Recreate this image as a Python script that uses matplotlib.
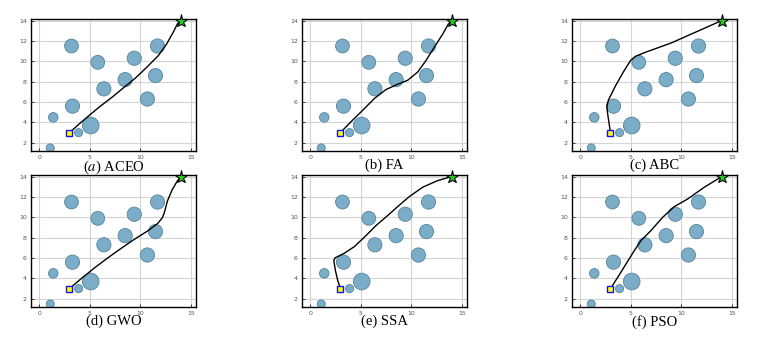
import matplotlib

matplotlib.use("Agg")
import matplotlib.pyplot as plt
from matplotlib.patches import Circle

plt.rcParams["mathtext.fontset"] = "stix"

# obstacles: x, y, radius
obs_x = [3.2, 5.8, 9.4, 11.7, 8.5, 11.5, 6.4, 10.7, 3.3, 5.1, 1.4, 3.9, 1.1]
obs_y = [11.5, 9.9, 10.3, 11.5, 8.2, 8.6, 7.3, 6.3, 5.6, 3.7, 4.5, 3.0, 1.5]
obs_r = [0.68, 0.68, 0.7, 0.7, 0.7, 0.7, 0.7, 0.7, 0.7, 0.82, 0.47, 0.4, 0.4]

start = (3, 3)
goal = (14, 14)

titles = ["($a$) ACEO", "(b) FA", "(c) ABC", "(d) GWO", "(e) SSA", "(f) PSO"]

aceo_x = [3.0, 3.9, 4.9, 6.0, 7.2, 8.3, 9.5, 10.6, 11.8, 12.6, 13.26, 13.65, 14.0]
aceo_y = [3.0, 3.8, 4.65, 5.56, 6.47, 7.37, 8.34, 9.38, 10.58, 11.7, 12.87, 13.65, 14.0]
fa_x = [3.0, 4.05, 5.2, 6.35, 7.5, 8.65, 9.64, 10.63, 11.45, 12.27, 13.1, 13.65, 14.0]
fa_y = [3.0, 4.08, 5.2, 6.35, 7.23, 7.75, 8.14, 8.95, 10.08, 11.38, 12.67, 13.64, 14.0]
abc_x = [3.0, 2.85, 2.7, 2.65, 2.8, 3.5, 4.3, 5.0, 5.5, 6.5, 9.0, 11.5, 14.0]
abc_y = [3.0, 4.0, 5.0, 5.6, 6.2, 7.6, 9.0, 10.1, 10.5, 10.9, 11.8, 12.9, 14.0]
gwo_x = [3.0, 4.18, 5.49, 6.8, 8.1, 9.41, 10.72, 11.7, 12.19, 12.42, 12.68, 13.17, 13.66, 14.0]
gwo_y = [3.0, 4.0, 5.05, 6.03, 6.95, 7.84, 8.66, 9.38, 9.97, 10.62, 11.61, 12.75, 13.57, 14.0]
ssa_x = [3.0, 2.73, 2.5, 2.34, 2.47, 3.39, 4.38, 5.36, 6.51, 7.66, 8.65, 9.8, 11.12, 12.6, 14.0]
ssa_y = [3.0, 3.8, 4.78, 5.76, 6.02, 6.48, 7.13, 8.05, 9.19, 10.17, 11.05, 12.03, 12.95, 13.6, 14.0]
pso_x = [3.0, 3.72, 4.54, 5.36, 6.02, 7.0, 8.16, 9.31, 10.63, 12.27, 14.0]
pso_y = [3.0, 4.12, 5.43, 6.74, 7.72, 8.7, 10.0, 11.05, 11.8, 12.95, 14.0]

paths = [(aceo_x, aceo_y), (fa_x, fa_y), (abc_x, abc_y),
         (gwo_x, gwo_y), (ssa_x, ssa_y), (pso_x, pso_y)]

fig = plt.figure(figsize=(7.78, 3.38), dpi=100)
W, H = 778, 338
lefts = [31, 302, 572]
tops = [19, 175]
aw, ah = 165, 132

for i, (px, py) in enumerate(paths):
    r, c = divmod(i, 3)
    ax = fig.add_axes([lefts[c] / W, (H - tops[r] - ah) / H, aw / W, ah / H])
    ax.set_xlim(-0.8, 15.5)
    ax.set_ylim(1.2, 14.15)
    ax.set_xticks([0, 5, 10, 15])
    ax.set_yticks([2, 4, 6, 8, 10, 12, 14])
    ax.grid(True, color="#d4d4d4", linewidth=0.8)
    ax.set_axisbelow(True)
    ax.tick_params(direction="in", length=2, width=0.5, labelsize=4.5,
                   labelcolor="#555555", pad=3)
    for s in ax.spines.values():
        s.set_linewidth(1.0)
        s.set_color("black")
    for x, y, rad in zip(obs_x, obs_y, obs_r):
        ax.add_patch(Circle((x, y), rad, facecolor="#7badc8",
                            edgecolor="#55849b", linewidth=0.6, zorder=2))
    ax.plot(px, py, color="black", linewidth=1.0, zorder=3)
    ax.plot(*start, marker="s", markersize=4.5, markerfacecolor="#ffff00",
            markeredgecolor="#1010ff", markeredgewidth=1.0, zorder=4)
    ax.plot(*goal, marker="*", markersize=9.5, markerfacecolor="#22cc22",
            markeredgecolor="black", markeredgewidth=0.8, zorder=4,
            clip_on=False)
    ax.set_xlabel(titles[i], fontfamily="Liberation Serif", fontsize=10.5,
                  labelpad=-1)

fig.savefig("out.png", dpi=100, facecolor="white")
